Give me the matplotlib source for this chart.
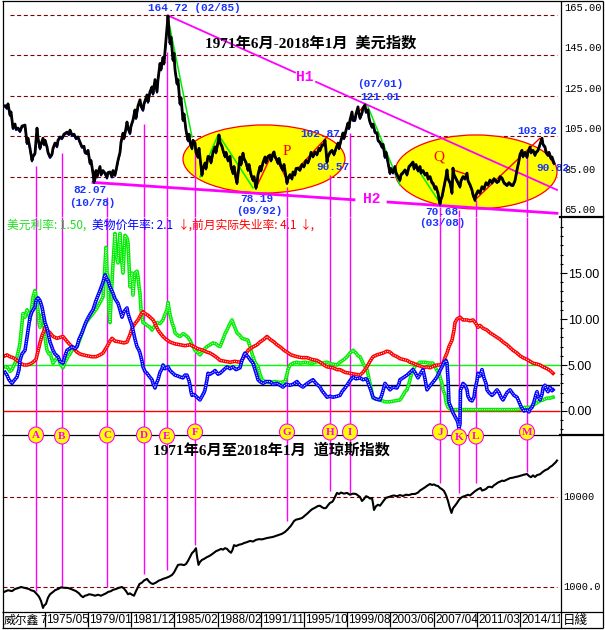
import matplotlib
matplotlib.use('Agg')
import matplotlib.pyplot as plt
from matplotlib.patches import Ellipse
from matplotlib.ticker import FixedLocator, NullLocator
from matplotlib.transforms import Bbox, TransformedBbox, ScaledTranslation

CJK = ['Noto Sans CJK SC', 'DejaVu Sans']
SERIF_CJK = ['Liberation Serif', 'Noto Sans CJK SC']
MONO = 'Liberation Mono'

# the x axis runs by bar number (daily chart), so x values are bar positions, not dates
usd = [(5,120),(7,119),(8,121),(10,115.5),(11,117),(13,109),(15,111),(16,108.5),(18,109),(20,107.5),
       (22,110),(25,110.5),(26,106),(27,101.6),(28,104),(30,99),(31,96),(32,93),(33,95),(35,96.5),
       (36,103),(37,109),(38,104),(40,99),(41,101),(43,104),(44,101),(45,103),(47,99.7),(48,97),
       (50,94.7),(52,96),(53,99),(55,101.6),(57,100),(58,103),(60,104.6),(62,104),(64,106),(67,107),
       (69,106),(70,108),(72,105.6),(74,106),(76,104),(78,104.6),(80,102),(82,99.7),(84,100),(85,97),
       (87,96.6),(88,98),(90,91.7),(91,93),(93,86.7),(94,82.3),(95,84),(96,88),(97,85),(98,87),
       (100,90),(101,86),(103,88),(105,86.7),(107,84.5),(108,87),(110,87.3),(112,85),(113,88),(115,85.8),
       (116,88),(118,93),(120,97),(121,102),(123,106.5),(124,104),(126,109),(127,112),(128,109),(130,106.5),
       (131,110),(133,113),(135,118),(136,114),(138,120),(140,123),(141,120),(143,118),(144,121),(146,124),
       (147,125.4),(148,122),(150,127),(152,129.4),(153,126),(155,133),(156,130),(157,127),(158,133),(160,141),
       (161,138),(163,144),(164,141),(166,152.6),(167,158),(168,164.5),(169,157),(170,151),(171,154),(173,142.7),
       (174,146),(175,138),(177,131),(178,133),(180,121),(181,124),(183,113),(184,116),(186,108),(188,103),
       (189,106),(190,102),(192,99),(193,103),(195,101.6),(196,97),(198,94.7),(199,99),(201,90),(202,85.8),
       (203,89),(205,91.7),(206,89),(208,95),(210,94.7),(211,92),(213,97),(215,99.7),(216,97),(218,102),
       (219,105.6),(220,102),(222,100),(223,98),(225,95),(226,97),(228,93),(230,95),(231,90),(233,86.7),
       (234,90),(236,84),(237,81.8),(238,86),(240,94.7),(241,91),(243,96.6),(244,94),(246,92),(248,88.3),
       (249,91),(251,86),(253,83.3),(254,85),(256,79.4),(257,82),(258,86),(260,90),(261,88),(263,92),
       (265,94.7),(266,92),(268,95),(270,95.7),(271,93),(273,96),(274,97.2),(275,95),(277,93),(278,91.7),
       (279,94),(281,90),(283,88.3),(284,91),(286,85),(287,81.8),(288,84),(290,86),(292,84),(293,87.3),
       (295,86),(296,89),(298,89.2),(300,88.3),(302,91),(304,90),(306,93),(308,92),(310,94.7),(311,97),
       (313,95),(315,97.2),(317,96),(319,99),(320,98),(322,100.6),(324,101),(325,103),(326,98),(327,92.2),
       (328,95),(330,97),(332,98),(334,96),(336,99),(338,101.6),(339,99),(341,103),(343,106.6),(344,104),
       (346,108),(348,111.5),(349,109),(350,113),(352,117),(353,113),(355,113),(356,116),(358,119.5),(359,116),
       (360,114),(362,116.5),(363,119),(365,120.5),(366,117),(368,118),(369,114),(370,112),(372,109.6),(373,111),
       (375,107),(377,106.6),(378,103),(380,102),(382,99.7),(383,101),(385,94.7),(386,97),(388,92),(390,86.7),
       (391,89),(393,87),(395,90),(396,87),(398,85),(400,83.3),(401,86),(403,87),(405,88.3),(407,86),
       (409,90),(411,91),(413,92.2),(414,89),(416,91),(418,88),(420,90),(421,87),(423,88),(425,86),
       (427,86.7),(428,84),(430,85),(432,82),(433,81.8),(435,79),(436,80),(438,76.9),(439,74),(440,71.5),
       (441,74),(442,75),(444,80),(446,85),(447,88.3),(448,84),(450,82),(452,76.9),(453,89.2),(454,86),
       (456,84),(458,82),(460,80),(461,83),(463,85),(465,84),(467,86.7),(468,83),(470,81),(472,78.4),
       (473,76),(475,73.4),(476,76),(478,78),(480,77),(482,80),(484,79),(486,82),(488,81),(490,83.3),
       (492,82),(494,84),(497,82.3),(499,83),(500,85),(502,84.3),(504,82),(507,80.8),(509,82),(511,81),
       (513,80.8),(515,83),(517,88.3),(519,93),(520,96),(522,98),(523,95),(525,97),(527,94.7),(528,97),
       (530,99.7),(531,97),(533,98),(535,95.7),(536,97),(538,98),(540,101),(542,104),(543,101),(545,99.7),
       (546,97),(548,95.7),(549,97),(551,94),(552,94.7),(554,91.7)]

usd_grid = [165, 145, 125, 105, 85]
usd_axis_labels = [165, 145, 125, 105, 85, 65]

# trend lines H1 / H2 through the pivots
h1_pivots = [(168, 164.72), (365, 121.01)]
h2_pivots = [(94, 82.07), (440, 70.68)]

green_legs = [[(168,163.5),(192,104.6)], [(200,84.8),(218,105.6)], [(220,104.6),(253,79.4)],
              [(368,119.5),(400,80.8)], [(413,92.2),(438,73.4)]]
red_legs = [[(256,79.4),(273,97.2),(287,83.3),(327,104.6)], [(348,111),(365,120.5)],
            [(452,88.5),(467,86)], [(477,74.4),(540,104),(553,91.7)]]

usd_notes = [('164.72 (02/85)', 194, 168.5), ('82.07', 90, 78.4), ('(10/78)', 92, 71.9),
             ('78.19', 257, 73.9), ('(09/92)', 259, 68.0), ('102.87', 320, 106.1),
             ('90.57', 333, 89.8), ('(07/01)', 380, 130.8), ('121.01', 380, 124.4),
             ('70.68', 442, 67.5), ('(03/08)', 442, 62.0), ('103.82', 537, 107.6),
             ('90.82', 553, 89.3)]

fed = [(5,4.8),(7,4.8),(10,4.3),(12,4.5),(15,5.2),(17,5.9),(19,6.8),(20,7.4),(22,9.5),(23,10.6),
       (25,10.2),(27,11),(29,10.4),(30,9.9),(32,11.5),(33,12.4),(35,13.1),(36,12.5),(38,11),(39,9.5),
       (40,9.1),(42,10.5),(43,10.2),(45,8),(47,6.6),(49,6.2),(50,6.3),(52,5.6),(53,5.2),(55,5.5),
       (58,5.9),(60,5.2),(63,4.7),(65,5.3),(68,5.9),(70,6.2),(72,6.6),(75,6.8),(77,7),(80,7.8),
       (83,8.8),(86,9.6),(90,10.2),(93,10.6),(97,11.2),(100,11.8),(103,12.4),(104,14),(106,17.8),(107,15),
       (108,14.6),(109,11),(110,9.6),(111,12),(113,16),(115,19.3),(116,17),(118,16.1),(119,18),(120,19.3),
       (121,17),(123,15),(124,17),(125,19.1),(127,18.8),(128,18.3),(129,16),(130,13.5),(131,14.5),(132,15),
       (133,12.6),(134,14),(135,15),(137,15.2),(138,14.6),(139,13.5),(140,12.8),(141,11),(143,9.6),(145,9.5),
       (147,9.3),(150,9.1),(152,8.8),(155,9.3),(157,9.6),(160,9.5),(163,9.9),(165,10.5),(167,11),(168,11.8),
       (170,10.5),(172,9.6),(174,9),(175,8.5),(178,8.2),(180,8.1),(183,8.4),(185,8.3),(188,8),(190,7.7),
       (193,7),(195,6.6),(198,6.3),(200,6.1),(203,6.5),(205,6.8),(207,7),(210,7.2),(213,7.4),(216,7.3),
       (218,7.1),(220,7),(223,7.8),(225,8.4),(227,8.8),(229,9.3),(232,9.9),(234,9.3),(237,8.5),(240,8.2),
       (242,7.9),(245,7.8),(248,7.7),(250,7),(253,5.9),(255,5.3),(258,4.8),(260,4),(262,3.4),(265,3.2),
       (270,3.1),(275,3.2),(280,3.1),(285,3.2),(287,4),(288,4.5),(290,5),(293,5.2),(297,5.3),(300,5.2),
       (305,5.3),(310,5.2),(313,5.2),(318,5.4),(322,5.2),(327,5.3),(332,5.1),(337,5.0),(340,5.3),(344,5.6),
       (347,5.9),(350,6.3),(353,6.6),(356,6.3),(358,6.0),(360,5.9),(363,5.2),(366,4.6),(367,4.5),(369,3.5),
       (370,3.0),(372,2),(373,1.4),(376,1.3),(380,1.2),(385,1.0),(390,1.0),(395,1.1),(400,1.2),(403,1.7),
       (405,2.1),(407,2.3),(409,3.0),(411,3.8),(413,4.5),(416,5.0),(420,5.3),(425,5.3),(430,5.2),(433,5.2),
       (436,4.6),(438,4.2),(440,3.7),(442,3.0),(443,2.3),(445,1.8),(446,1.0),(448,0.4),(450,0.2),(453,0.15),
       (470,0.15),(490,0.15),(515,0.15),(520,0.2),(525,0.4),(530,0.4),(533,0.6),(537,0.9),(540,1.1),(543,1.2),
       (547,1.4),(550,1.4),(553,1.5)]

cpi = [(5,4.2),(7,3.9),(9,3.4),(12,3.0),(14,3.3),(17,3.7),(19,4.5),(20,5.5),(22,6.2),(25,6.6),
       (27,8),(30,10.2),(32,10.8),(35,11.3),(36,12),(38,12.3),(40,12),(42,11.3),(44,10.2),(45,9.6),
       (47,9),(48,8.5),(50,7.5),(53,6.6),(55,6.2),(58,5.9),(60,5.4),(63,5.2),(65,6),(67,6.6),
       (70,6.8),(72,7),(75,6.8),(77,7),(79,7.8),(82,8.5),(85,9.4),(87,9.9),(90,10.5),(93,11),
       (96,12),(100,13.1),(103,14),(105,14.8),(107,14.3),(108,14.2),(110,13.5),(113,12.8),(115,12.2),(118,11.7),
       (120,11),(122,10.2),(124,10.8),(127,11.2),(128,10.6),(130,9.9),(132,9.3),(133,8.8),(135,7.8),(137,7),
       (139,6.6),(140,6.3),(142,5.4),(143,4.8),(145,4.3),(147,4.1),(149,3.8),(152,3.4),(153,3.0),(155,2.5),
       (156,2.9),(158,3.4),(160,4.2),(162,4.6),(163,5.0),(165,4.6),(168,4.8),(170,4.4),(173,4.1),(175,3.9),
       (178,3.8),(180,3.7),(183,3.6),(185,3.9),(187,3.9),(189,3.3),(190,2.8),(191,2.1),(192,1.7),(194,1.8),
       (197,1.5),(199,1.3),(200,1.2),(202,1.6),(204,2.0),(205,2.3),(207,3.4),(208,4.1),(210,4.0),(213,4.2),
       (215,4.4),(218,4.0),(220,4.1),(223,4.4),(225,4.6),(227,4.8),(230,4.6),(233,4.8),(236,4.5),(240,4.7),
       (242,5.5),(244,6.1),(245,6.3),(247,6.0),(248,5.9),(250,5.6),(253,5.2),(255,4.5),(257,3.8),(258,3.4),
       (260,3.2),(263,3.0),(266,3.2),(270,3.2),(273,2.9),(277,3.0),(280,2.8),(283,2.6),(286,2.9),(290,2.8),
       (293,2.9),(297,3.2),(300,2.8),(303,2.6),(306,2.9),(310,3.2),(313,3.4),(316,3.0),(320,2.6),(322,2.2),
       (325,1.8),(327,1.5),(330,1.6),(333,1.5),(337,1.6),(340,1.7),(342,2.1),(345,2.5),(347,2.8),(350,3.3),
       (353,3.7),(356,3.5),(360,3.6),(363,3.4),(366,3.5),(367,3.4),(369,2.8),(371,2.2),(373,1.5),(376,1.3),
       (380,1.2),(382,1.8),(385,3.0),(387,2.7),(390,2.3),(393,2.6),(397,2.5),(399,3.0),(400,3.4),(403,3.6),
       (407,3.9),(410,4.2),(413,4.5),(415,4.2),(418,3.6),(420,4.0),(423,4.5),(425,3.5),(427,2.3),(429,2.6),
       (432,3.0),(435,3.4),(437,3.7),(440,4.4),(442,4.8),(444,5.3),(446,5.5),(447,5.2),(448,3.5),(449,0.9),
       (451,0.4),(453,-0.2),(455,-0.6),(457,-1.0),(458,-1.3),(459,-1.9),(460,-1.4),(460.5,2.3),(462,2.6),(463,3.0),
       (465,2.8),(467,2.3),(468,1.6),(470,1.2),(472,1.1),(474,1.5),(475,2.3),(477,3.3),(478,4.1),(480,3.8),
       (482,4.5),(484,3.6),(486,3.0),(487,2.3),(489,2.0),(492,1.7),(494,1.9),(497,2.3),(499,2.0),(501,1.5),
       (503,1.2),(505,1.6),(507,2.0),(510,2.3),(512,2.0),(514,1.7),(517,1.5),(519,1.0),(521,0.5),(522,0.3),
       (524,0.0),(526,0.1),(527,0.1),(529,-0.1),(530,0.2),(532,0.4),(534,1.0),(536,1.8),(537,2.1),(538,1.6),
       (540,1.2),(542,1.8),(543,2.5),(545,2.8),(546,2.4),(548,2.1),(550,2.6),(552,2.2),(553,2.3)]

jobless = [(5,6.0),(7,6.1),(10,5.9),(13,5.8),(16,5.6),(20,5.2),(24,5.0),(27,5.0),(30,5.1),(33,5.3),
           (36,5.6),(38,6.5),(40,7.4),(42,8.2),(44,8.7),(45,9.1),(47,8.8),(50,8.5),(53,8.1),(57,7.9),
           (60,8.0),(63,8.1),(66,7.7),(70,7.2),(73,6.9),(77,6.4),(80,6.2),(83,6.1),(87,6.0),(92,5.9),
           (96,5.9),(100,6.1),(103,6.3),(107,7.0),(110,7.6),(112,7.9),(115,7.6),(120,7.5),(124,7.4),(127,7.5),
           (130,8.3),(132,9.0),(135,9.5),(138,9.9),(141,10.5),(143,10.8),(145,10.6),(148,10.4),(150,10.2),(153,9.9),
           (155,9.5),(158,8.8),(160,8.5),(163,8.1),(166,7.8),(170,7.5),(175,7.3),(180,7.2),(185,7.1),(190,7.2),
           (194,7.0),(197,6.8),(200,6.7),(203,6.6),(207,6.4),(210,6.3),(213,6.1),(217,5.8),(220,5.5),(225,5.4),
           (230,5.3),(235,5.4),(240,5.3),(243,5.7),(246,6.2),(248,6.6),(252,6.9),(257,7.2),(260,7.5),(264,7.8),
           (267,8.1),(270,7.8),(274,7.5),(277,7.2),(281,6.9),(284,6.6),(287,6.4),(291,6.1),(297,5.9),(302,5.8),
           (307,5.8),(312,5.6),(317,5.5),(320,5.3),(324,5.0),(327,4.8),(333,4.7),(337,4.5),(340,4.5),(345,4.2),
           (350,4.1),(355,4.0),(360,3.9),(363,4.2),(367,4.8),(370,5.4),(373,5.9),(377,6.1),(380,6.2),(383,6.3),
           (387,6.5),(390,6.4),(393,6.1),(397,5.9),(400,5.7),(403,5.6),(407,5.5),(410,5.3),(413,5.2),(417,5.0),
           (420,4.9),(424,4.7),(427,4.8),(430,4.7),(434,4.9),(437,5.0),(440,5.0),(443,5.2),(445,5.8),(447,6.3),
           (449,7.0),(452,7.7),(454,8.8),(455,9.6),(457,10.0),(460,10.2),(463,9.9),(467,9.9),(470,9.8),(473,9.9),
           (476,9.5),(478,9.1),(480,9.3),(483,9.0),(487,8.8),(490,8.5),(493,8.3),(497,8.0),(500,7.8),(503,7.5),
           (507,7.2),(510,6.9),(513,6.6),(517,6.3),(520,6.0),(523,5.8),(527,5.6),(530,5.4),(533,5.2),(537,5.1),
           (540,5.0),(543,4.8),(547,4.6),(550,4.4),(553,4.1)]

rate_lines = [(5.0, '#00FF00'), (2.8, 'black'), (0.0, '#FF0000')]
rate_ticks = [0, 5, 10, 15]
legend_parts = [('美元利率: 1.50,', 7, '#22DD22'), ('美物价年率: 2.1', 92, '#0000FF'), ('↓,', 178, '#FF0000'),
                ('前月实际失业率: 4.1', 192, '#FF0000'), ('↓,', 300, '#FF0000')]

dow = [(4,880),(8,920),(12,900),(15,950),(18,970),(21,1000),(24,980),(27,960),(29,950),(31,920),
       (34,900),(37,830),(39,780),(41,700),(43,585),(44,620),(46,650),(48,760),(50,830),(53,880),
       (55,920),(58,950),(61,990),(64,980),(68,975),(71,950),(74,920),(76,900),(79,850),(81,800),
       (83,770),(85,800),(87,810),(89,830),(92,820),(95,800),(98,820),(101,800),(104,830),(106,850),
       (108,880),(111,900),(113,930),(116,950),(119,980),(122,1000),(124,960),(126,900),(128,830),(130,850),
       (132,820),(134,800),(136,900),(138,1000),(139.5,1080),(142,1120),(144,1180),(147,1230),(149,1150),(151,1100),
       (153,1080),(156,1120),(159,1180),(161,1200),(163,1230),(166,1260),(169,1300),(172,1360),(174,1450),(176,1600),
       (178,1760),(181,1780),(184,1750),(186,1800),(188,1950),(190,2150),(192,2380),(194,2500),(196,2700),(197,2200),
       (198.5,1760),(200,1900),(202,2000),(204,2050),(207,2150),(209,2200),(211,2270),(214,2400),(216,2500),(219,2580),
       (221,2650),(223,2600),(225,2700),(227,2650),(229,2500),(231,2400),(232.5,2580),(234,2920),(236,2850),(239,2950),
       (242,3000),(244,3080),(247,3150),(250,3250),(253,3200),(256,3340),(259,3400),(262,3380),(265,3450),(267,3500),
       (270,3550),(273,3600),(276,3700),(279,3800),(282,3900),(285,4090),(288,4400),(291,4800),(294,5400),(296,5600),
       (299,5700),(302,5840),(304,6100),(307,6500),(310,6990),(312,7300),(315,7600),(318,7940),(320,8000),(322,7700),
       (324,7500),(326,7550),(328,8100),(330,8600),(332,8800),(333,9030),(335,10000),(337,11100),(339,10800),(341,11200),
       (344,10900),(347,11100),(350,10600),(353,10900),(356,10800),(358,10400),(360,10000),(362,9030),(364,9500),(366,10200),
       (368,10000),(370,9600),(372,9750),(373,8500),(374,7170),(376,7900),(378,8200),(380,8000),(382,8580),(384,9200),
       (386,9800),(389,10000),(391.5,10260),(394,10400),(397,10200),(400,10500),(403,10260),(406,10600),(409,10500),(412,10800),
       (415,10800),(418,11200),(420,11800),(422.5,12270),(425,12800),(427,13300),(430,13950),(432,13600),(434,13800),(436,13400),
       (438,13250),(440,12600),(442,12200),(444,11660),(446,10500),(448,9030),(449.5,7800),(451.5,6650),(453,7500),(455,8000),
       (457,8580),(459,9300),(461,9800),(463,10100),(465,10260),(468,10600),(470,10400),(473,11100),(475,11600),(478,12200),
       (480.6,12590),(482,11800),(484,12000),(486,12270),(488,12900),(490,13000),(492,12800),(494,13500),(496,13950),(498,14500),
       (500,14800),(502,15200),(504,15050),(507,15600),(510,16200),(513,16400),(515.5,16690),(518,16900),(521,17300),(524,17700),
       (527,18020),(529,17100),(531,16600),(533,17400),(535,16690),(537,17500),(540,17900),(542.6,18950),(545,19800),(548,20500),
       (550,21540),(552,22200),(554,23300),(556,24500),(557,25430)]
dow_grid = [10000, 1000]

marker_letters = list('ABCDEFGHIJKLM')
marker_bar = [36, 62, 107, 144, 167, 195, 287, 330, 350, 440, 459, 476, 527]
marker_usd_top = [90.3, 96.7, 74.9, 111, 146.7, 101.6, 79.9, 85.8, 106.6, 70, 68.5, 73.4, 96.7]
marker_dow_end = [900, 1000, 1000, 1390, 1540, 2930, 5400, 11660, 11100, 14130, 11100, 14480, 18950]
marker_row = [435, 436, 435, 435, 436, 432, 432, 432, 432, 432, 437, 436, 432]

date_labels = ['1975/05', '1979/01', '1981/12', '1985/02', '1988/02', '1991/11',
               '1995/10', '1999/08', '2003/06', '2007/04', '2011/03', '2014/11']
date_bar = [45, 88, 131, 174, 218, 261, 304, 347, 390, 434, 477, 520]

W, H = 605, 630
fig = plt.figure(figsize=(W / 100, H / 100), dpi=100, facecolor='white')


def box(x0, y0, x1, y1):
    return [x0 / W, 1 - y1 / H, (x1 - x0) / W, (y1 - y0) / H]


ax1 = fig.add_axes(box(3, 2, 560, 217))
ax2 = fig.add_axes(box(3, 217, 560, 435))
ax3 = fig.add_axes(box(3, 435, 560, 611))
ov = fig.add_axes([0, 0, 1, 1], zorder=10)
ov.set_xlim(0, W)
ov.set_ylim(H, 0)
ov.axis('off')
ov.patch.set_alpha(0)

for ax in (ax1, ax2, ax3):
    ax.set_xlim(3, 560)
    ax.patch.set_alpha(0)
    for s in ax.spines.values():
        s.set_visible(False)
    ax.set_xticks([])

# ---------- panel 1: US dollar index ----------
ax1.set_ylim(65, 171.4)
ax1.set_yticks([])
ax1.hlines(usd_grid, 10, 557, color='#800000', lw=0.8, linestyles=(0, (3.6, 2.4)), zorder=0)
for v in usd_axis_labels:
    ax1.text(564, v + 3.5, f'{v:.2f}', family=MONO, fontsize=7.5, va='center', ha='left', clip_on=False)

ax1.add_patch(Ellipse((264, 93.7), 162, 33.7, fc='#FFFF00', ec='#FF0000', lw=0.9, zorder=1))
ax1.add_patch(Ellipse((476, 87.3), 162, 36.6, fc='#FFFF00', ec='#FF0000', lw=0.9, zorder=1))
ax1.text(287, 97.2, 'P', color='#FF0000', family='Liberation Serif', fontsize=11, ha='center', va='center', zorder=6)
ax1.text(439, 94.7, 'Q', color='#FF0000', family='Liberation Serif', fontsize=11, ha='center', va='center', zorder=6)

ax1.vlines(marker_bar, 65, marker_usd_top, color='#FF00FF', lw=1, zorder=2)


def trend(pivots, x):
    (xa, ya), (xb, yb) = pivots
    return ya + (yb - ya) * (x - xa) / (xb - xa)


for piv, segs, lw in ((h1_pivots, [(168, 295), (316, 557)], 1.3), (h2_pivots, [(93, 354), (388, 557)], 2.0)):
    for xa, xb in segs:
        ax1.plot([xa, xb], [trend(piv, xa), trend(piv, xb)], color='#FF00FF', lw=lw, zorder=3)
ax1.text(305, 134.3, 'H1', color='#FF00FF', family=MONO, weight='bold', fontsize=10.5, ha='center', va='center')
ax1.text(372, 73.9, 'H2', color='#FF00FF', family=MONO, weight='bold', fontsize=10.5, ha='center', va='center')

for leg in green_legs:
    lx, lv = zip(*leg)
    ax1.plot(lx, lv, color='#00EE00', lw=1.1, zorder=3)
for leg in red_legs:
    lx, lv = zip(*leg)
    ax1.plot(lx, lv, color='#FF0000', lw=1.0, zorder=3)

ux, uv = zip(*usd)
shadow = ScaledTranslation(0, -0.012, fig.dpi_scale_trans)
ax1.plot(ux, uv, color='#0000FF', lw=1.2, transform=ax1.transData + shadow, zorder=4)
ax1.plot(ux, uv, color='black', lw=2.0, zorder=5)

for txt, x, v in usd_notes:
    ax1.text(x, v, txt, color='#1a33ff', family=MONO, weight='bold', fontsize=8,
             ha='center', va='center', clip_on=False, zorder=7)
ax1.text(311, 151.1, '1971年6月-2018年1月  美元指数', family=SERIF_CJK, weight='bold',
         fontsize=11, ha='center', va='center', zorder=7)

# ---------- panel 2: rates ----------
ax2.set_ylim(-2.61, 21.09)
for v, c in rate_lines:
    ax2.axhline(v, color=c, lw=1, zorder=1)
ax2.vlines(marker_bar, -2.61, 21.09, color='#FF00FF', lw=1, zorder=2)


def hollow(ax, pts, color):
    px, pv = zip(*pts)
    ax.plot(px, pv, color=color, lw=2.6, zorder=4)
    ax.plot(px, pv, color='white', lw=0.7, dashes=(1, 1.3), zorder=4)


hollow(ax2, fed, '#00EE00')
hollow(ax2, jobless, '#FF0000')
hollow(ax2, cpi, '#0000FF')

ax2.yaxis.tick_right()
ax2.set_yticks(rate_ticks)
ax2.set_yticklabels([f'{t:.2f}' for t in rate_ticks], family='Liberation Sans')
ax2.yaxis.set_minor_locator(FixedLocator(range(-2, 21)))
ax2.tick_params(axis='y', which='major', length=5, width=0.8, pad=0.5, labelsize=9)
ax2.tick_params(axis='y', which='minor', length=2.2, width=0.8)

for txt, x, c in legend_parts:
    ax2.text(x, 20.2, txt, color=c, family=CJK, fontsize=8.5, ha='left', va='center')

# ---------- panel 3: Dow Jones ----------
ax3.set_yscale('log')
ax3.set_ylim(541, 48850)
ax3.yaxis.set_major_locator(NullLocator())
ax3.yaxis.set_minor_locator(NullLocator())
ax3.hlines(dow_grid, 3, 557, color='#800000', lw=0.8, linestyles=(0, (3.6, 2.4)), zorder=0)
ax3.text(563, 10000, '10000', family=MONO, fontsize=7.5, va='center', ha='left', clip_on=False)
ax3.text(563, 1000, '1000.0', family=MONO, fontsize=7.5, va='center', ha='left', clip_on=False)
ax3.vlines(marker_bar, marker_dow_end, 48850, color='#FF00FF', lw=1, zorder=2)
dx, dv = zip(*dow)
ax3.plot(dx, dv, color='black', lw=1.5, zorder=4)
ax3.text(271, 33270, '1971年6月至2018年1月  道琼斯指数', family=SERIF_CJK, weight='bold',
         fontsize=11, ha='center', va='center', zorder=7)

# ---------- frame, markers, bottom labels ----------
frame = dict(color='black', lw=0.9, solid_capstyle='butt')
ov.plot([2.5, 2.5], [1, 628], **frame)
ov.plot([603, 603], [1, 628], **frame)
ov.plot([2, 603], [1, 1], **frame)
ov.plot([2, 603], [628, 628], **frame)
ov.plot([560.5, 560.5], [1, 628], **frame)
ov.plot([2, 560], [435, 435], **frame)
ov.plot([2, 603], [611.5, 611.5], **frame)
ov.plot([560, 603], [217, 217], color='black', lw=1.6)
ov.plot([560, 603], [435, 435], color='black', lw=1.6)

for x, y, letter in zip(marker_bar, marker_row, marker_letters):
    ov.add_patch(Ellipse((x, y), 15, 16, fc='#FFFF00', ec='#FF00FF', lw=0.8, zorder=11))
    ov.text(x, y + 0.5, letter, color='#FF00FF', family='Liberation Serif', weight='bold',
            fontsize=8, ha='center', va='center', zorder=12)

clip = TransformedBbox(Bbox([[0, 0], [560, H]]), ov.transData)
ov.vlines(date_bar, 612, 627, color='black', lw=0.9)
for x, lab in zip(date_bar, date_labels):
    t = ov.text(x + 1, 620, lab, family='Liberation Sans', fontsize=8.5, ha='left', va='center')
    t.set_clip_box(clip)
    t.set_clip_on(True)
ov.text(4, 620, '威尔鑫', family=CJK, fontsize=8.5, ha='left', va='center')
ov.text(40.5, 620, '7', family='Liberation Sans', fontsize=8, ha='left', va='center')
ov.text(563, 620, '日綫', family=CJK, fontsize=9, ha='left', va='center')

fig.savefig('out.png', dpi=100, facecolor='white')
